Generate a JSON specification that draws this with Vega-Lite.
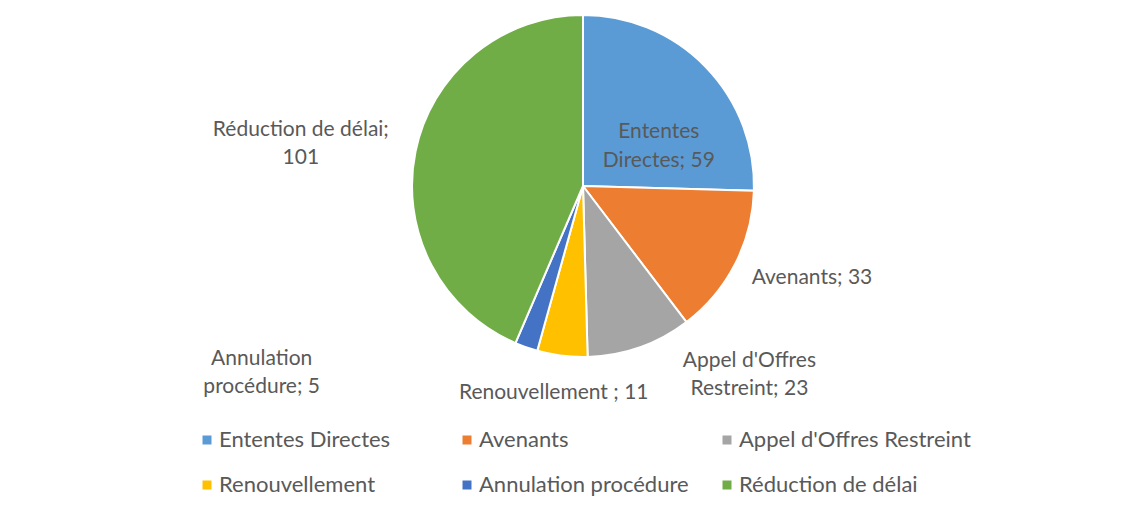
{
  "$schema": "https://vega.github.io/schema/vega-lite/v6.json",
  "width": 1122,
  "height": 372,
  "autosize": {"type": "none"},
  "padding": {"left": 22, "top": 0, "right": 0, "bottom": 140},
  "background": "white",
  "config": {"view": {"stroke": null}, "font": "Lato"},
  "data": {
    "values": [
      {"i": 1, "cat": "Ententes Directes", "value": 59, "label": "Ententes\nDirectes; 59"},
      {"i": 2, "cat": "Avenants", "value": 33, "label": "Avenants; 33"},
      {"i": 3, "cat": "Appel d'Offres Restreint", "value": 23, "label": "Appel d'Offres\nRestreint; 23"},
      {"i": 4, "cat": "Renouvellement", "value": 11, "label": "Renouvellement ; 11"},
      {"i": 5, "cat": "Annulation procédure", "value": 5, "label": "Annulation\nprocédure; 5"},
      {"i": 6, "cat": "Réduction de délai", "value": 101, "label": "Réduction de délai;\n101"}
    ]
  },
  "encoding": {
    "theta": {"field": "value", "type": "quantitative", "stack": true},
    "order": {"field": "i", "type": "quantitative"},
    "color": {
      "field": "cat",
      "type": "nominal",
      "scale": {
        "domain": ["Ententes Directes", "Avenants", "Appel d'Offres Restreint", "Renouvellement", "Annulation procédure", "Réduction de délai"],
        "range": ["#5B9BD5", "#ED7D31", "#A5A5A5", "#FFC000", "#4472C4", "#70AD47"]
      },
      "legend": {
        "orient": "none",
        "legendX": 174,
        "legendY": 429,
        "direction": "horizontal",
        "columns": 3,
        "title": null,
        "symbolType": "square",
        "symbolSize": 81,
        "symbolStrokeWidth": 0,
        "labelFontSize": 22,
        "labelColor": "#595959",
        "labelFont": "Lato",
        "labelOffset": 1,
        "labelLimit": 400,
        "columnPadding": 5,
        "rowPadding": 23,
        "gridAlign": "all"
      }
    }
  },
  "layer": [
    {"mark": {"type": "arc", "outerRadius": 171, "stroke": "white", "strokeWidth": 2}},
    {
      "mark": {"type": "text", "radius": 83.5, "dx": 16, "dy": 4, "fontSize": 21, "lineHeight": 29, "lineBreak": "\n", "align": "center", "baseline": "middle"},
      "encoding": {"text": {"condition": {"test": "datum.i === 1", "field": "label"}, "value": ""}, "color": {"value": "#595959"}}
    },
    {
      "mark": {"type": "text", "radius": 245, "dx": 11, "dy": -20, "fontSize": 21, "lineHeight": 28, "lineBreak": "\n", "align": "center", "baseline": "middle"},
      "encoding": {"text": {"condition": {"test": "datum.i === 2", "field": "label"}, "value": ""}, "color": {"value": "#595959"}}
    },
    {
      "mark": {"type": "text", "radius": 233, "dx": 89, "dy": -45, "fontSize": 21, "lineHeight": 28, "lineBreak": "\n", "align": "center", "baseline": "middle"},
      "encoding": {"text": {"condition": {"test": "datum.i === 3", "field": "label"}, "value": ""}, "color": {"value": "#595959"}}
    },
    {
      "mark": {"type": "text", "radius": 208, "dx": -4, "dy": 1, "fontSize": 21, "lineHeight": 28, "lineBreak": "\n", "align": "center", "baseline": "middle"},
      "encoding": {"text": {"condition": {"test": "datum.i === 4", "field": "label"}, "value": ""}, "color": {"value": "#595959"}}
    },
    {
      "mark": {"type": "text", "radius": 281, "dx": -228, "dy": -92, "fontSize": 21, "lineHeight": 28, "lineBreak": "\n", "align": "center", "baseline": "middle"},
      "encoding": {"text": {"condition": {"test": "datum.i === 5", "field": "label"}, "value": ""}, "color": {"value": "#595959"}}
    },
    {
      "mark": {"type": "text", "radius": 285, "dx": -3, "dy": 1, "fontSize": 21, "lineHeight": 28, "lineBreak": "\n", "align": "center", "baseline": "middle"},
      "encoding": {"text": {"condition": {"test": "datum.i === 6", "field": "label"}, "value": ""}, "color": {"value": "#595959"}}
    }
  ]
}
